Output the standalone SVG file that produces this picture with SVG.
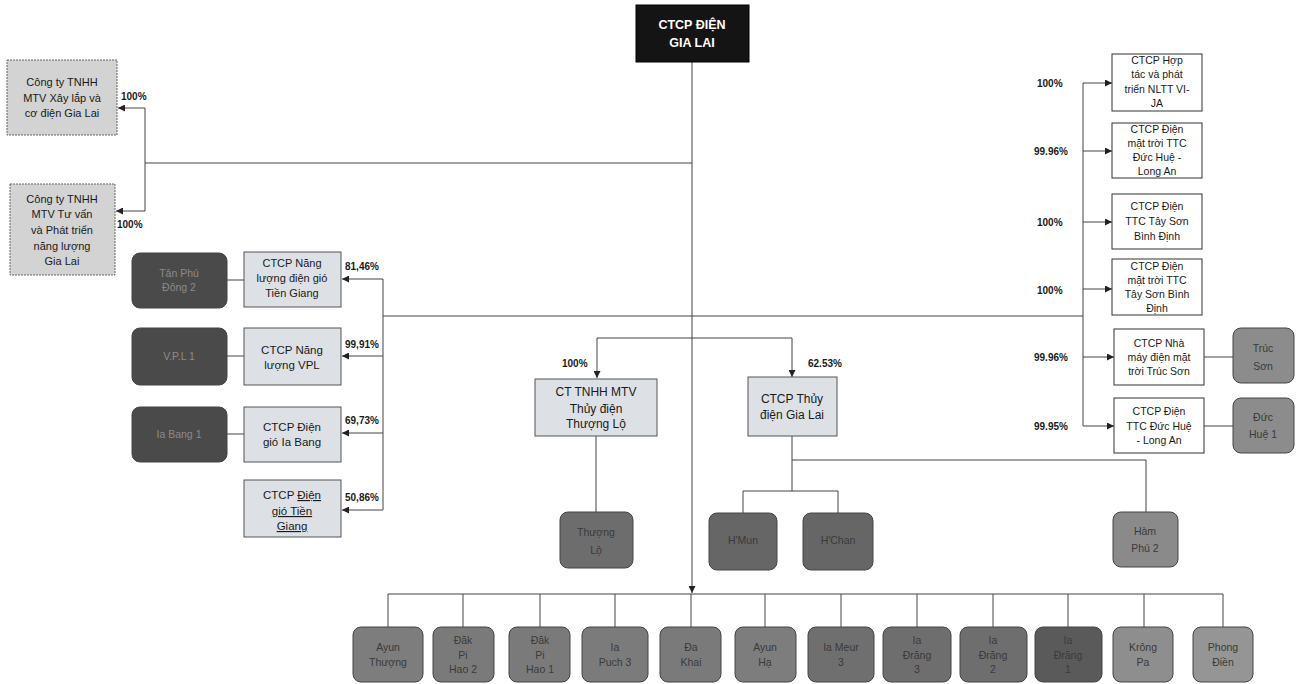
<svg xmlns="http://www.w3.org/2000/svg" width="1302" height="684" viewBox="0 0 1302 684">
<style>
text{font-family:"Liberation Sans",Arial,sans-serif;font-size:11px;text-anchor:middle;fill:#1a1a1a}
.pct{font-weight:bold;font-size:10px;text-anchor:start}
.co{fill:#d3d3d3;stroke:#666;stroke-width:1;stroke-dasharray:2 1}
.lb{fill:#dde1e6;stroke:#555;stroke-width:1}
.wb{fill:#fff;stroke:#333;stroke-width:1}
.pl{stroke:#444;stroke-width:1}
.pt{fill:#3a3a3a;font-size:10.5px}
.dt{fill:#8a8a8a;font-size:10.5px}
.ln{fill:none;stroke:#444;stroke-width:1}
</style>
<defs>
<marker id="ar" viewBox="0 0 10 10" refX="10" refY="5" markerWidth="7" markerHeight="7" orient="auto" markerUnits="userSpaceOnUse">
<path d="M0,0 L10,5 L0,10 z" fill="#222"/>
</marker>
</defs>
<rect width="1302" height="684" fill="#fff"/>
<g id="connectors">
<path class="ln" d="M692 62 V593" marker-end="url(#ar)"/>
<path class="ln" d="M692 163 H145 M145 108 V211"/>
<path class="ln" d="M145 108 H118" marker-end="url(#ar)"/>
<path class="ln" d="M145 211 H116" marker-end="url(#ar)"/>
<path class="ln" d="M383 316 H1083 M383 279 V510"/>
<path class="ln" d="M383 279 H342" marker-end="url(#ar)"/>
<path class="ln" d="M383 356 H342" marker-end="url(#ar)"/>
<path class="ln" d="M383 433 H342" marker-end="url(#ar)"/>
<path class="ln" d="M383 510 H342" marker-end="url(#ar)"/>
<path class="ln" d="M227 280 H244 M227 356 H244 M227 434 H244"/>
<path class="ln" d="M1083 83 V426"/>
<path class="ln" d="M1083 83 H1112" marker-end="url(#ar)"/>
<path class="ln" d="M1083 151 H1112" marker-end="url(#ar)"/>
<path class="ln" d="M1083 222 H1112" marker-end="url(#ar)"/>
<path class="ln" d="M1083 289 H1112" marker-end="url(#ar)"/>
<path class="ln" d="M1083 357 H1114" marker-end="url(#ar)"/>
<path class="ln" d="M1083 426 H1114" marker-end="url(#ar)"/>
<path class="ln" d="M1204 357 H1233 M1204 426 H1233"/>
<path class="ln" d="M597 338 H792"/>
<path class="ln" d="M597 338 V378" marker-end="url(#ar)"/>
<path class="ln" d="M792 338 V377" marker-end="url(#ar)"/>
<path class="ln" d="M596 436 V512"/>
<path class="ln" d="M792 436 V491 M792 460 H1146 V512 M743 513 V491 H838 V513"/>
<path class="ln" d="M388 594 H1223 M388 594 V627 M463 594 V627 M540 594 V627 M615 594 V627 M691 594 V627 M765 594 V627 M841 594 V627 M917 594 V627 M993 594 V627 M1068 594 V627 M1144 594 V627 M1223 594 V627"/>
</g>
<g id="labels">
<text class="pct" x="121" y="100">100%</text>
<text class="pct" x="117" y="228">100%</text>
<text class="pct" x="345" y="270">81,46%</text>
<text class="pct" x="345" y="348">99,91%</text>
<text class="pct" x="345" y="424">69,73%</text>
<text class="pct" x="345" y="501">50,86%</text>
<text class="pct" x="1037" y="87">100%</text>
<text class="pct" x="1034" y="155">99.96%</text>
<text class="pct" x="1037" y="226">100%</text>
<text class="pct" x="1037" y="294">100%</text>
<text class="pct" x="1034" y="361">99.96%</text>
<text class="pct" x="1034" y="430">99.95%</text>
<text class="pct" x="562" y="367">100%</text>
<text class="pct" x="808" y="367">62.53%</text>
</g>
<g id="root">
<rect x="636" y="5" width="113" height="57" fill="#141414" stroke="#000"/>
<text x="692" y="29" style="fill:#fff;font-weight:bold;font-size:12.5px">CTCP ĐIỆN</text>
<text x="692" y="47" style="fill:#fff;font-weight:bold;font-size:12.5px">GIA LAI</text>
</g>
<g id="xaylap">
<rect class="co" x="7" y="60" width="110" height="75"/>
<text x="62" y="86">Công ty TNHH</text>
<text x="62" y="102">MTV Xây lắp và</text>
<text x="62" y="117">cơ điện Gia Lai</text>
</g>
<g id="tuvan">
<rect class="co" x="10" y="184" width="105" height="91"/>
<text x="62" y="203">Công ty TNHH</text>
<text x="62" y="218">MTV Tư vấn</text>
<text x="62" y="234">và Phát triển</text>
<text x="62" y="250">năng lượng</text>
<text x="62" y="265">Gia Lai</text>
</g>
<g id="nl-tiengiang">
<rect class="lb" x="244" y="252" width="97" height="55"/>
<text x="292" y="267">CTCP Năng</text>
<text x="292" y="282">lượng điện gió</text>
<text x="292" y="297">Tiền Giang</text>
</g>
<g id="nl-vpl">
<rect class="lb" x="244" y="328" width="97" height="57"/>
<text x="292" y="354" style="font-size:11.5px">CTCP Năng</text>
<text x="292" y="369" style="font-size:11.5px">lượng VPL</text>
</g>
<g id="gio-iabang">
<rect class="lb" x="244" y="407" width="97" height="55"/>
<text x="292" y="431" style="font-size:11.5px">CTCP Điện</text>
<text x="292" y="446" style="font-size:11.5px">gió Ia Bang</text>
</g>
<g id="gio-tiengiang">
<rect class="lb" x="244" y="480" width="97" height="57"/>
<text x="292" y="499" style="font-size:11.5px">CTCP <tspan text-decoration="underline">Điện</tspan></text>
<text x="292" y="515" style="font-size:11.5px" text-decoration="underline">gió Tiền</text>
<text x="292" y="530" style="font-size:11.5px" text-decoration="underline">Giang</text>
</g>
<g id="tanphudong2">
<rect class="pl" x="132" y="253" width="95" height="55" rx="8" fill="#4a4a4a"/>
<text class="dt" x="179" y="277">Tân Phú</text>
<text class="dt" x="179" y="291">Đông 2</text>
</g>
<g id="vpl1">
<rect class="pl" x="132" y="328" width="95" height="57" rx="8" fill="#4a4a4a"/>
<text class="dt" x="179" y="360">V.P.L 1</text>
</g>
<g id="iabang1">
<rect class="pl" x="132" y="407" width="95" height="55" rx="8" fill="#4a4a4a"/>
<text class="dt" x="179" y="438">Ia Bang 1</text>
</g>
<g id="vija">
<rect class="wb" x="1112" y="54" width="90" height="57"/>
<text x="1157" y="64" style="font-size:10.5px">CTCP Hợp</text>
<text x="1157" y="78" style="font-size:10.5px">tác và phát</text>
<text x="1157" y="93" style="font-size:10.5px">triển NLTT VI-</text>
<text x="1157" y="107" style="font-size:10.5px">JA</text>
</g>
<g id="ttc-duchue">
<rect class="wb" x="1112" y="123" width="90" height="55"/>
<text x="1157" y="133" style="font-size:10.5px">CTCP Điện</text>
<text x="1157" y="147" style="font-size:10.5px">mặt trời TTC</text>
<text x="1157" y="161" style="font-size:10.5px">Đức Huệ -</text>
<text x="1157" y="175" style="font-size:10.5px">Long An</text>
</g>
<g id="ttc-tayson">
<rect class="wb" x="1112" y="194" width="90" height="55"/>
<text x="1157" y="210" style="font-size:10.5px">CTCP Điện</text>
<text x="1157" y="225" style="font-size:10.5px">TTC Tây Sơn</text>
<text x="1157" y="240" style="font-size:10.5px">Bình Định</text>
</g>
<g id="mt-tayson">
<rect class="wb" x="1112" y="259" width="90" height="56"/>
<text x="1157" y="270" style="font-size:10.5px">CTCP Điện</text>
<text x="1157" y="284" style="font-size:10.5px">mặt trời TTC</text>
<text x="1157" y="298" style="font-size:10.5px">Tây Sơn Bình</text>
<text x="1157" y="312" style="font-size:10.5px">Định</text>
</g>
<g id="trucson-co">
<rect class="wb" x="1114" y="329" width="90" height="56"/>
<text x="1159" y="347" style="font-size:10.5px">CTCP Nhà</text>
<text x="1159" y="361" style="font-size:10.5px">máy điện mặt</text>
<text x="1159" y="375" style="font-size:10.5px">trời Trúc Sơn</text>
</g>
<g id="ttc-duchue-la">
<rect class="wb" x="1114" y="398" width="90" height="55"/>
<text x="1159" y="415" style="font-size:10.5px">CTCP Điện</text>
<text x="1159" y="430" style="font-size:10.5px">TTC Đức Huệ</text>
<text x="1159" y="444" style="font-size:10.5px">- Long An</text>
</g>
<g id="trucson">
<rect class="pl" x="1233" y="328" width="61" height="55" rx="8" fill="#8c8c8c"/>
<text class="pt" x="1263" y="352">Trúc</text>
<text class="pt" x="1263" y="370">Sơn</text>
</g>
<g id="duchue1">
<rect class="pl" x="1233" y="398" width="61" height="55" rx="8" fill="#8c8c8c"/>
<text class="pt" x="1263" y="421">Đức</text>
<text class="pt" x="1263" y="438">Huệ 1</text>
</g>
<g id="tnhh-thuonglo">
<rect class="lb" x="535" y="379" width="122" height="57"/>
<text x="596" y="396" style="font-size:12px">CT TNHH MTV</text>
<text x="596" y="413" style="font-size:12px">Thủy điện</text>
<text x="596" y="428" style="font-size:12px">Thượng Lộ</text>
</g>
<g id="thuydien-gialai">
<rect class="lb" x="748" y="377" width="89" height="59"/>
<text x="792" y="403" style="font-size:12px">CTCP Thủy</text>
<text x="792" y="419" style="font-size:12px">điện Gia Lai</text>
</g>
<g id="thuonglo">
<rect class="pl" x="560" y="512" width="73" height="56" rx="8" fill="#6d6d6d"/>
<text class="pt" x="596" y="536">Thượng</text>
<text class="pt" x="596" y="554">Lộ</text>
</g>
<g id="hmun">
<rect class="pl" x="709" y="513" width="68" height="57" rx="8" fill="#666"/>
<text class="pt" x="743" y="544">H'Mun</text>
</g>
<g id="hchan">
<rect class="pl" x="803" y="513" width="70" height="57" rx="8" fill="#666"/>
<text class="pt" x="838" y="544">H'Chan</text>
</g>
<g id="hamphu2">
<rect class="pl" x="1113" y="512" width="65" height="55" rx="8" fill="#8a8a8a"/>
<text class="pt" x="1145" y="535">Hàm</text>
<text class="pt" x="1145" y="552">Phú 2</text>
</g>
<g id="ayunthuong">
<rect class="pl" x="353" y="627" width="70" height="55" rx="8" fill="#7d7d7d"/>
<text class="pt" x="388" y="651">Ayun</text>
<text class="pt" x="388" y="666">Thượng</text>
</g>
<g id="dakpihao2">
<rect class="pl" x="433" y="627" width="61" height="55" rx="8" fill="#7a7a7a"/>
<text class="pt" x="463" y="644">Đăk</text>
<text class="pt" x="463" y="659">Pi</text>
<text class="pt" x="463" y="673">Hao 2</text>
</g>
<g id="dakpihao1">
<rect class="pl" x="509" y="627" width="61" height="55" rx="8" fill="#7a7a7a"/>
<text class="pt" x="540" y="644">Đăk</text>
<text class="pt" x="540" y="659">Pi</text>
<text class="pt" x="540" y="673">Hao 1</text>
</g>
<g id="iapuch3">
<rect class="pl" x="582" y="627" width="66" height="55" rx="8" fill="#7b7b7b"/>
<text class="pt" x="615" y="651">Ia</text>
<text class="pt" x="615" y="666">Puch 3</text>
</g>
<g id="dakhai">
<rect class="pl" x="660" y="627" width="61" height="55" rx="8" fill="#7a7a7a"/>
<text class="pt" x="691" y="651">Đa</text>
<text class="pt" x="691" y="666">Khai</text>
</g>
<g id="ayunha">
<rect class="pl" x="735" y="627" width="61" height="55" rx="8" fill="#7d7d7d"/>
<text class="pt" x="765" y="651">Ayun</text>
<text class="pt" x="765" y="666">Hạ</text>
</g>
<g id="iameur3">
<rect class="pl" x="808" y="627" width="66" height="55" rx="8" fill="#6f6f6f"/>
<text class="pt" x="841" y="651">Ia Meur</text>
<text class="pt" x="841" y="666">3</text>
</g>
<g id="iadrang3">
<rect class="pl" x="883" y="627" width="68" height="55" rx="8" fill="#6e6e6e"/>
<text class="pt" x="917" y="644">Ia</text>
<text class="pt" x="917" y="659">Đrăng</text>
<text class="pt" x="917" y="673">3</text>
</g>
<g id="iadrang2">
<rect class="pl" x="960" y="627" width="67" height="55" rx="8" fill="#6e6e6e"/>
<text class="pt" x="993" y="644">Ia</text>
<text class="pt" x="993" y="659">Đrăng</text>
<text class="pt" x="993" y="673">2</text>
</g>
<g id="iadrang1">
<rect class="pl" x="1035" y="627" width="67" height="55" rx="8" fill="#5a5a5a"/>
<text class="pt" x="1068" y="644">Ia</text>
<text class="pt" x="1068" y="659">Đrăng</text>
<text class="pt" x="1068" y="673">1</text>
</g>
<g id="krongpa">
<rect class="pl" x="1113" y="627" width="60" height="55" rx="8" fill="#8e8e8e"/>
<text class="pt" x="1143" y="651">Krông</text>
<text class="pt" x="1143" y="666">Pa</text>
</g>
<g id="phongdien">
<rect class="pl" x="1193" y="627" width="60" height="55" rx="8" fill="#959595"/>
<text class="pt" x="1223" y="651">Phong</text>
<text class="pt" x="1223" y="666">Điền</text>
</g>
</svg>
